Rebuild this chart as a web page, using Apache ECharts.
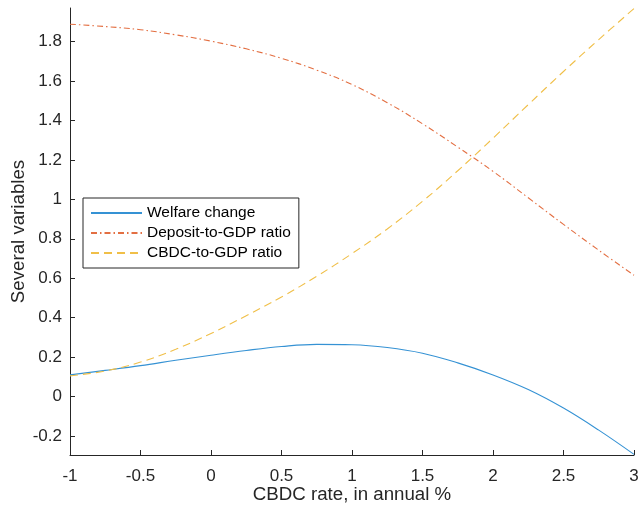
<!DOCTYPE html>
<html>
<head>
<meta charset="utf-8">
<script src="https://cdn.jsdelivr.net/npm/echarts@6/dist/echarts.min.js"></script>
<style>
html, body { margin: 0; padding: 0; background: #fff; }
#main { width: 640px; height: 509px; }
</style>
</head>
<body>
<div id="main"></div>
<script>
// CBDC rate grid (annual %)
var rates = [-1, -0.75, -0.5, -0.25, 0, 0.25, 0.5, 0.75, 1, 1.25, 1.5, 1.75, 2, 2.25, 2.5, 2.75, 3];
var welfare = [0.110, 0.133, 0.157, 0.184, 0.210, 0.234, 0.254, 0.265, 0.263, 0.249, 0.220, 0.171, 0.110, 0.036, -0.058, -0.170, -0.293];
var deposit = [1.888, 1.876, 1.860, 1.834, 1.802, 1.763, 1.715, 1.655, 1.582, 1.490, 1.383, 1.265, 1.142, 1.008, 0.873, 0.742, 0.615];
var cbdc = [0.105, 0.130, 0.175, 0.240, 0.320, 0.410, 0.505, 0.610, 0.725, 0.850, 0.990, 1.145, 1.310, 1.480, 1.648, 1.810, 1.967];
var yTicks = [-0.2, 0, 0.2, 0.4, 0.6, 0.8, 1, 1.2, 1.4, 1.6, 1.8];

function pairs(ys) {
	return rates.map(function (x, i) { return [x, ys[i]]; });
}

var myChart = echarts.init(document.getElementById('main'));
var axisColor = '#262626';
var font = 'Liberation Sans, Arial, Helvetica, sans-serif';

var option = {
	animation: false,
	textStyle: { fontFamily: font },
	grid: { left: 70, right: 6, top: 8, bottom: 54, containLabel: false, outerBoundsMode: 'none' },
	legend: {
		orient: 'vertical',
		left: 83,
		top: 198,
		padding: [7, 8, 7, 7],
		itemWidth: 51,
		itemHeight: 14,
		itemGap: 4,
		borderColor: axisColor,
		borderWidth: 1,
		backgroundColor: '#fff',
		itemStyle: { opacity: 0 },
		textStyle: { fontSize: 15.5, color: '#000', fontFamily: font },
		data: ['Welfare change', 'Deposit-to-GDP ratio', 'CBDC-to-GDP ratio']
	},
	xAxis: {
		type: 'value',
		min: -1,
		max: 3,
		interval: 0.5,
		name: 'CBDC rate, in annual %',
		nameLocation: 'middle',
		nameGap: 30,
		nameMoveOverlap: false,
		nameTextStyle: { fontSize: 18.7, color: axisColor },
		axisLine: { onZero: false, lineStyle: { color: axisColor, width: 1 } },
		axisTick: { inside: true, length: 5, lineStyle: { color: axisColor } },
		axisLabel: { fontSize: 17, color: axisColor, margin: 13 },
		splitLine: { show: false }
	},
	yAxis: {
		type: 'value',
		min: -0.296,
		max: 1.97,
		name: 'Several variables',
		nameLocation: 'middle',
		nameGap: 42,
		nameMoveOverlap: false,
		nameTextStyle: { fontSize: 18.7, color: axisColor },
		axisLine: { show: true, onZero: false, lineStyle: { color: axisColor, width: 1 } },
		axisTick: { show: true, inside: true, length: 5, customValues: yTicks, lineStyle: { color: axisColor } },
		axisLabel: { fontSize: 17, color: axisColor, margin: 8, customValues: yTicks },
		splitLine: { show: false }
	},
	series: [
		{
			name: 'Welfare change',
			type: 'line',
			smooth: 0.4,
			symbol: 'none',
			data: pairs(welfare),
			lineStyle: { color: '#3592d4', width: 1.1 },
			itemStyle: { color: '#3592d4' }
		},
		{
			name: 'Deposit-to-GDP ratio',
			type: 'line',
			smooth: 0.4,
			symbol: 'none',
			data: pairs(deposit),
			lineStyle: { color: '#e36f42', width: 1.1, type: [6, 3, 1.5, 3] },
			itemStyle: { color: '#e36f42' }
		},
		{
			name: 'CBDC-to-GDP ratio',
			type: 'line',
			smooth: 0.4,
			symbol: 'none',
			data: pairs(cbdc),
			lineStyle: { color: '#f0bf48', width: 1.1, type: [8, 5] },
			itemStyle: { color: '#f0bf48' }
		}
	]
};
myChart.setOption(option);
</script>
</body>
</html>
